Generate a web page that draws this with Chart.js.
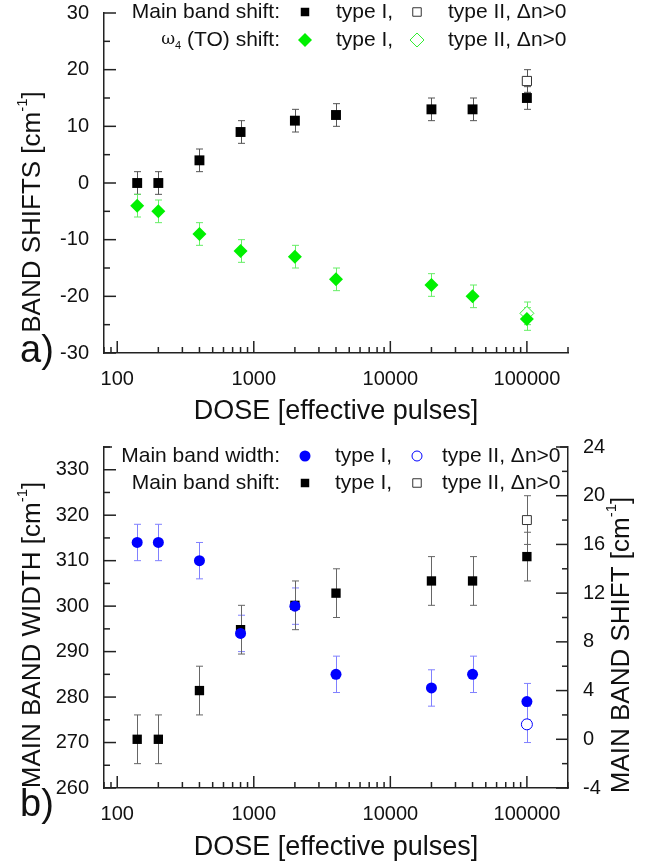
<!DOCTYPE html>
<html>
<head>
<meta charset="utf-8">
<script src="https://cdn.jsdelivr.net/npm/chart.js@4.4.1/dist/chart.umd.min.js"></script>
<style>
  body { margin: 0; background: #fff; }
  #wrap { position: relative; width: 651px; height: 867px; }
  canvas { position: absolute; left: 0; }
</style>
</head>
<body>
<div id="wrap">
  <canvas id="chartA" width="651" height="430" style="top:0"></canvas>
  <canvas id="chartB" width="651" height="437" style="top:430px"></canvas>
</div>
<script>
// Data
const doses = [140, 200, 400, 800, 2000, 4000, 20000, 40000, 100000];
const mainShift = [0, 0, 4, 9, 11, 12, 13, 13, 15];
const mainShiftErr = [2, 2, 2, 2, 2, 2, 2, 2, 2];
const toShift = [-4, -5, -9, -12, -13, -17, -18, -20, -24];
const toShiftErr = [2, 2, 2, 2, 2, 2, 2, 2, 2];
const mainWidth = [314, 314, 310, 294, 300, 285, 282, 285, 279];
const mainWidthErr = [4, 4, 4, 4, 4, 4, 4, 4, 4];

// type II (Δn>0) samples
const doses2 = [100000];
const mainShift2 = [18];
const mainShiftErr2 = [2];
const toShift2 = [-23];
const toShiftErr2 = [2];
const mainWidth2 = [274];
const mainWidthErr2 = [4];

// tick labels
const xLabels = [100, 1000, 10000, 100000];
const yLabelsA = [-30, -20, -10, 0, 10, 20, 30];
const yLabelsWidth = [260, 270, 280, 290, 300, 310, 320, 330];
const yLabelsShift = [-4, 0, 4, 8, 12, 16, 20, 24];

const FONT = '"Liberation Sans", Arial, sans-serif';

function pts(xs, ys) {
  return xs.map((x, i) => ({ x: x, y: ys[i] }));
}

function logTicks(scale) {
  const ticks = [];
  for (let d = 10; d <= 100000; d *= 10) {
    for (let m = 1; m < 10; m++) {
      const v = m * d;
      if (v >= scale.min && v <= scale.max) ticks.push({ value: v, major: m === 1 });
    }
  }
  scale.ticks = ticks;
}

function xScale(h, titlePad) {
  return {
    type: 'logarithmic', min: 80, max: 200000,
    afterBuildTicks: logTicks,
    afterFit: s => { s.height = h; s.paddingLeft = 0; s.paddingRight = 0; },
    grid: { display: false, drawTicks: false },
    border: { display: true, color: '#222', width: 1.5 },
    ticks: {
      autoSkip: false, maxRotation: 0, minRotation: 0, padding: 14,
      color: '#111', font: { family: FONT, size: 20 },
      callback: v => xLabels.includes(v) ? String(v) : ''
    },
    title: {
      display: true, text: 'DOSE [effective pulses]', color: '#111',
      font: { family: FONT, size: 27 }, padding: { top: 0, bottom: titlePad }
    }
  };
}

function yScale(pos, min, max, step, labels, w) {
  return {
    position: pos, min: min, max: max,
    afterFit: s => { s.width = w; s.paddingTop = 0; s.paddingBottom = 0; },
    grid: { display: false, drawTicks: false },
    border: { display: true, color: '#222', width: 1.5 },
    ticks: {
      stepSize: step, autoSkip: false, padding: 15,
      color: '#111', font: { family: FONT, size: 20 },
      callback: v => labels.includes(v) ? String(v) : ''
    }
  };
}

// error bars, drawn under the markers
const errorBars = {
  id: 'errorBars',
  beforeDatasetsDraw(chart) {
    const ctx = chart.ctx;
    chart.data.datasets.forEach((ds, i) => {
      if (!ds.errors) return;
      const meta = chart.getDatasetMeta(i);
      const xs = chart.scales[meta.xAxisID];
      const ys = chart.scales[meta.yAxisID];
      ctx.save();
      ctx.strokeStyle = ds.errorColor;
      ctx.lineWidth = 1;
      ds.data.forEach((p, j) => {
        const x = Math.round(xs.getPixelForValue(p.x)) + 0.5;
        const top = ys.getPixelForValue(p.y + ds.errors[j]);
        const bot = ys.getPixelForValue(p.y - ds.errors[j]);
        ctx.beginPath();
        ctx.moveTo(x, top); ctx.lineTo(x, bot);
        ctx.moveTo(x - 3.5, top); ctx.lineTo(x + 3.5, top);
        ctx.moveTo(x - 3.5, bot); ctx.lineTo(x + 3.5, bot);
        ctx.stroke();
      });
      ctx.restore();
    });
  }
};

// tick marks pointing into the plot
const innerTicks = {
  id: 'innerTicks',
  beforeDatasetsDraw(chart) {
    const ctx = chart.ctx, a = chart.chartArea;
    ctx.save();
    ctx.strokeStyle = '#222';
    ctx.lineWidth = 1.5;
    Object.values(chart.scales).forEach(s => {
      s.ticks.forEach(t => {
        const len = (t.label !== '' && t.label !== undefined) ? 12 : 6;
        const p = s.getPixelForValue(t.value);
        ctx.beginPath();
        if (s.axis === 'x') {
          ctx.moveTo(p, a.bottom); ctx.lineTo(p, a.bottom - len);
        } else if (s.position === 'left') {
          ctx.moveTo(a.left, p); ctx.lineTo(a.left + len, p);
        } else {
          ctx.moveTo(a.right, p); ctx.lineTo(a.right - len, p);
        }
        ctx.stroke();
      });
    });
    ctx.restore();
  }
};

function drawParts(ctx, parts, x, y, align) {
  let total = 0;
  parts.forEach(p => { ctx.font = p.font; total += ctx.measureText(p.t).width; });
  let cx = align === 'right' ? x - total : (align === 'center' ? x - total / 2 : x);
  parts.forEach(p => {
    ctx.font = p.font;
    ctx.fillText(p.t, cx, y + (p.dy || 0));
    cx += ctx.measureText(p.t).width;
  });
}

// legend rows, axis titles with superscripts, panel letters
const decorations = {
  id: 'decorations',
  afterDraw(chart, args, opts) {
    const ctx = chart.ctx, a = chart.chartArea;
    ctx.save();
    ctx.fillStyle = '#111';
    ctx.textBaseline = 'middle';

    if (opts.topFrame) {
      ctx.strokeStyle = '#222';
      ctx.lineWidth = 1.5;
      ctx.beginPath();
      ctx.moveTo(a.left, a.top); ctx.lineTo(opts.topFrame[0], a.top);
      ctx.moveTo(opts.topFrame[1], a.top); ctx.lineTo(a.right, a.top);
      ctx.stroke();
    }

    const lf = '21px ' + FONT;
    opts.legend.forEach(row => {
      ctx.fillStyle = '#111';
      drawParts(ctx, row.label, 280, row.y, 'right');
      ctx.font = lf;
      ctx.fillText('type I,', opts.col[1], row.y);
      ctx.fillText('type II, \u0394n>0', opts.col[3], row.y);
      [row.s1, row.s2].forEach((s, k) => {
        ctx.fillStyle = s.fill;
        ctx.strokeStyle = s.stroke || s.fill;
        ctx.lineWidth = 1;
        Chart.helpers.drawPoint(ctx, { pointStyle: s.style, radius: s.r, rotation: 0, borderWidth: s.stroke ? 1 : 0 },
          opts.col[k * 2], row.y);
      });
    });

    ctx.fillStyle = '#111';
    opts.yTitles.forEach(t => {
      ctx.save();
      ctx.translate(t.x, t.y);
      ctx.rotate(-Math.PI / 2);
      drawParts(ctx, [
        { t: t.text + ' [cm', font: '26px ' + FONT },
        { t: '-1', font: '15px ' + FONT, dy: -10 },
        { t: ']', font: '26px ' + FONT }
      ], 0, 0, 'center');
      ctx.restore();
    });

    ctx.font = '38px ' + FONT;
    ctx.fillText(opts.letter[0], opts.letter[1], opts.letter[2]);
    ctx.restore();
  }
};

Chart.register(errorBars, innerTicks, decorations);

// panel a
new Chart(document.getElementById('chartA'), {
  type: 'scatter',
  data: {
    datasets: [
      { label: 'Main band shift, type I', data: pts(doses, mainShift), errors: mainShiftErr, errorColor: '#555',
        pointStyle: 'rect', pointRadius: 7, backgroundColor: '#000', borderWidth: 0 },
      { label: 'Main band shift, type II', data: pts(doses2, mainShift2), errors: mainShiftErr2, errorColor: '#555',
        pointStyle: 'rect', pointRadius: 6.5, backgroundColor: '#fff', borderColor: '#333', borderWidth: 1 },
      { label: 'TO shift, type I', data: pts(doses, toShift), errors: toShiftErr, errorColor: '#66ee66',
        pointStyle: 'rectRot', pointRadius: 7, backgroundColor: '#00f000', borderWidth: 0 },
      { label: 'TO shift, type II', data: pts(doses2, toShift2), errors: toShiftErr2, errorColor: '#66ee66',
        pointStyle: 'rectRot', pointRadius: 7, backgroundColor: '#fff', borderColor: '#33ee33', borderWidth: 1 }
    ]
  },
  options: {
    responsive: false, animation: false, events: [],
    layout: { padding: { top: 13, right: 83, left: 0, bottom: 0 } },
    plugins: {
      legend: { display: false }, tooltip: { enabled: false },
      decorations: {
        col: [305, 336, 417, 448],
        legend: [
          { y: 12, label: [{ t: 'Main band shift:', font: '21px ' + FONT }],
            s1: { style: 'rect', r: 6, fill: '#000' }, s2: { style: 'rect', r: 6, fill: '#fff', stroke: '#333' } },
          { y: 40, label: [
              { t: '\u03c9', font: '17px "DejaVu Serif", serif' },
              { t: '4', font: '11px ' + FONT, dy: 6 },
              { t: ' (TO) shift:', font: '21px ' + FONT }],
            s1: { style: 'rectRot', r: 7, fill: '#00f000' }, s2: { style: 'rectRot', r: 7, fill: '#fff', stroke: '#33ee33' } }
        ],
        yTitles: [{ x: 33, y: 212, text: 'BAND SHIFTS' }],
        letter: ['a)', 20, 352]
      }
    },
    scales: {
      x: xScale(77, 2),
      y: yScale('left', -30, 30, 5, yLabelsA, 104)
    }
  }
});

// panel b
new Chart(document.getElementById('chartB'), {
  type: 'scatter',
  data: {
    datasets: [
      { label: 'Main band width, type I', data: pts(doses, mainWidth), errors: mainWidthErr, errorColor: '#8080ff',
        yAxisID: 'y', pointStyle: 'circle', pointRadius: 5.5, backgroundColor: '#0000ff', borderWidth: 0 },
      { label: 'Main band width, type II', data: pts(doses2, mainWidth2), errors: mainWidthErr2, errorColor: '#8080ff',
        yAxisID: 'y', pointStyle: 'circle', pointRadius: 5.5, backgroundColor: '#fff', borderColor: '#0000ff', borderWidth: 1 },
      { label: 'Main band shift, type I', data: pts(doses, mainShift), errors: mainShiftErr, errorColor: '#666',
        yAxisID: 'y2', pointStyle: 'rect', pointRadius: 6.6, backgroundColor: '#000', borderWidth: 0 },
      { label: 'Main band shift, type II', data: pts(doses2, mainShift2), errors: mainShiftErr2, errorColor: '#666',
        yAxisID: 'y2', pointStyle: 'rect', pointRadius: 6.3, backgroundColor: '#fff', borderColor: '#333', borderWidth: 1 }
    ]
  },
  options: {
    responsive: false, animation: false, events: [],
    layout: { padding: { top: 17, right: 0, left: 0, bottom: 0 } },
    plugins: {
      legend: { display: false }, tooltip: { enabled: false },
      decorations: {
        topFrame: [112, 560],
        col: [305, 335, 417, 442],
        legend: [
          { y: 26, label: [{ t: 'Main band width:', font: '21px ' + FONT }],
            s1: { style: 'circle', r: 5.5, fill: '#0000ff' }, s2: { style: 'circle', r: 5, fill: '#fff', stroke: '#0000ff' } },
          { y: 53, label: [{ t: 'Main band shift:', font: '21px ' + FONT }],
            s1: { style: 'rect', r: 6, fill: '#000' }, s2: { style: 'rect', r: 6, fill: '#fff', stroke: '#333' } }
        ],
        yTitles: [
          { x: 33, y: 205, text: 'MAIN BAND WIDTH' },
          { x: 622, y: 215, text: 'MAIN BAND SHIFT' }
        ],
        letter: ['b)', 20, 376]
      }
    },
    scales: {
      x: xScale(79, 3),
      y: yScale('left', 260, 335, 5, yLabelsWidth, 104),
      y2: yScale('right', -4, 24, 2, yLabelsShift, 83)
    }
  }
});
</script>
</body>
</html>
